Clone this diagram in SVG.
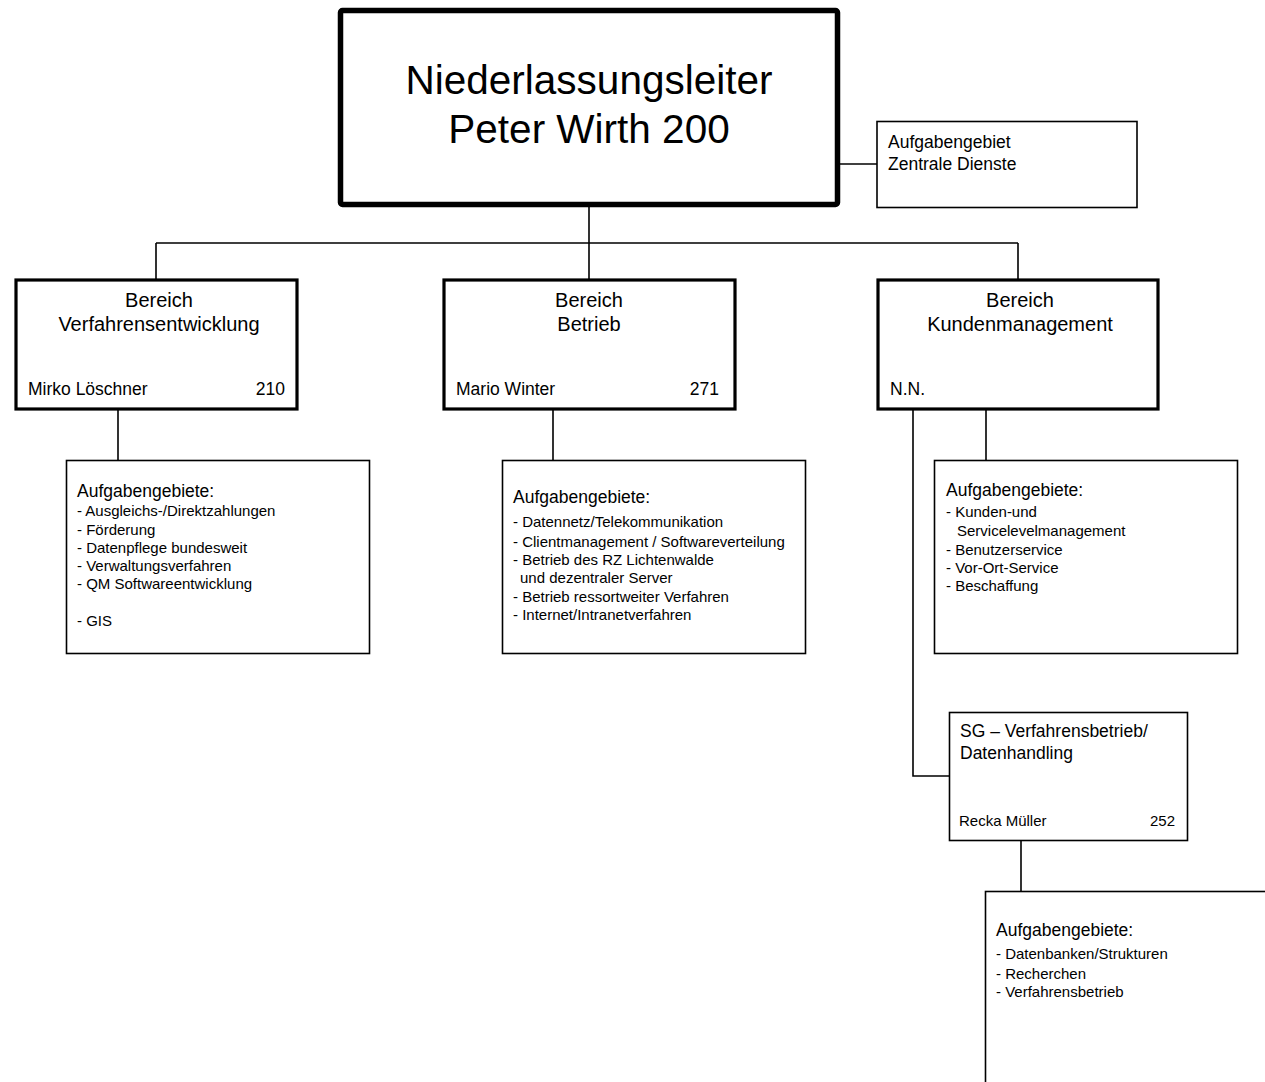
<svg xmlns="http://www.w3.org/2000/svg" width="1265" height="1082" viewBox="0 0 1265 1082">
<style>
text{font-family:"Liberation Sans",Arial,sans-serif;fill:#000}
.box{fill:#fff;stroke:#000;stroke-width:1.6}
.bx{fill:#fff;stroke:#000;stroke-width:3.2}
.top{fill:#fff;stroke:#000;stroke-width:5.5}
.ln{fill:none;stroke:#000;stroke-width:1.6}
.t40{font-size:40.5px}
.t20{font-size:20px}
.t18{font-size:17.5px}
.t17{font-size:17.5px}
.t15{font-size:15px}
.m{text-anchor:middle}
.e{text-anchor:end}
</style>
<rect width="1265" height="1082" fill="#fff"/>
<g id="connectors">
<path class="ln" d="M840 164H877"/>
<path class="ln" d="M589 206V243M156 243H1018M156 243V279M589 243V279M1018 243V279"/>
<path class="ln" d="M118 410V460M553 410V460M986 410V460"/>
<path class="ln" d="M913 410V776H949"/>
<path class="ln" d="M1021 841V891"/>
</g>
<g id="leiter">
<rect class="top" x="340.5" y="10.5" width="497" height="194" rx="2"/>
<text class="t40 m" x="589" y="94">Niederlassungsleiter</text>
<text class="t40 m" x="589" y="143">Peter Wirth 200</text>
</g>
<g id="zentrale">
<rect class="box" x="877" y="121.5" width="260" height="86"/>
<text class="t17" x="888" y="148">Aufgabengebiet</text>
<text class="t17" x="888" y="170">Zentrale Dienste</text>
</g>
<g id="bereich-vf">
<rect class="bx" x="16" y="280" width="281" height="129"/>
<text class="t20 m" x="159" y="307">Bereich</text>
<text class="t20 m" x="159" y="331">Verfahrensentwicklung</text>
<text class="t18" x="28" y="395">Mirko Löschner</text>
<text class="t18 e" x="285" y="395">210</text>
</g>
<g id="bereich-betrieb">
<rect class="bx" x="444" y="280" width="291" height="129"/>
<text class="t20 m" x="589" y="307">Bereich</text>
<text class="t20 m" x="589" y="331">Betrieb</text>
<text class="t18" x="456" y="395">Mario Winter</text>
<text class="t18 e" x="719" y="395">271</text>
</g>
<g id="bereich-km">
<rect class="bx" x="878" y="280" width="280" height="129"/>
<text class="t20 m" x="1020" y="307">Bereich</text>
<text class="t20 m" x="1020" y="331">Kundenmanagement</text>
<text class="t18" x="890" y="395">N.N.</text>
</g>
<g id="aufgaben-vf">
<rect class="box" x="66.5" y="460.5" width="303" height="193"/>
<text class="t17" x="77" y="497">Aufgabengebiete:</text>
<text class="t15" x="77" y="516">- Ausgleichs-/Direktzahlungen</text>
<text class="t15" x="77" y="535">- Förderung</text>
<text class="t15" x="77" y="553">- Datenpflege bundesweit</text>
<text class="t15" x="77" y="571">- Verwaltungsverfahren</text>
<text class="t15" x="77" y="589">- QM Softwareentwicklung</text>
<text class="t15" x="77" y="626">- GIS</text>
</g>
<g id="aufgaben-betrieb">
<rect class="box" x="502.5" y="460.5" width="303" height="193"/>
<text class="t17" x="513" y="503">Aufgabengebiete:</text>
<text class="t15" x="513" y="527">- Datennetz/Telekommunikation</text>
<text class="t15" x="513" y="547">- Clientmanagement / Softwareverteilung</text>
<text class="t15" x="513" y="565">- Betrieb des RZ Lichtenwalde</text>
<text class="t15" x="520" y="583">und dezentraler Server</text>
<text class="t15" x="513" y="602">- Betrieb ressortweiter Verfahren</text>
<text class="t15" x="513" y="620">- Internet/Intranetverfahren</text>
</g>
<g id="aufgaben-km">
<rect class="box" x="934.5" y="460.5" width="303" height="193"/>
<text class="t17" x="946" y="496">Aufgabengebiete:</text>
<text class="t15" x="946" y="517">- Kunden-und</text>
<text class="t15" x="957" y="536">Servicelevelmanagement</text>
<text class="t15" x="946" y="555">- Benutzerservice</text>
<text class="t15" x="946" y="573">- Vor-Ort-Service</text>
<text class="t15" x="946" y="591">- Beschaffung</text>
</g>
<g id="sg">
<rect class="box" x="949.5" y="712.5" width="238" height="128"/>
<text class="t17" x="960" y="737">SG – Verfahrensbetrieb/</text>
<text class="t17" x="960" y="759">Datenhandling</text>
<text class="t15" x="959" y="826">Recka Müller</text>
<text class="t15 e" x="1175" y="826">252</text>
</g>
<g id="aufgaben-sg">
<rect class="box" x="985.5" y="891.5" width="300" height="250"/>
<text class="t17" x="996" y="936">Aufgabengebiete:</text>
<text class="t15" x="996" y="959">- Datenbanken/Strukturen</text>
<text class="t15" x="996" y="979">- Recherchen</text>
<text class="t15" x="996" y="997">- Verfahrensbetrieb</text>
</g>
</svg>
